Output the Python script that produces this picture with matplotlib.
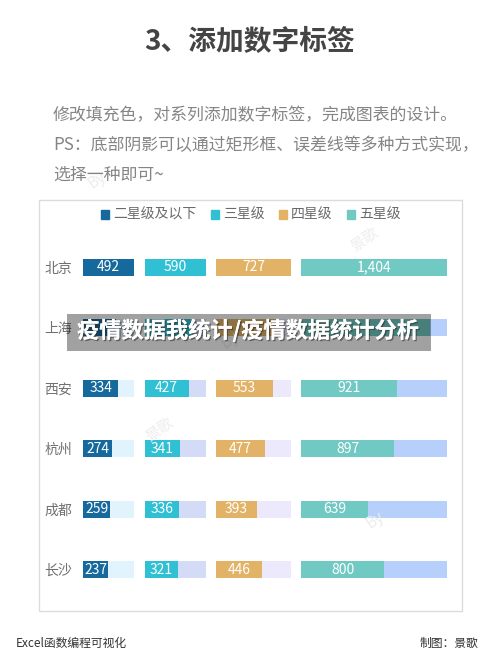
import matplotlib.pyplot as plt
import matplotlib.patheffects as pe
from matplotlib.patches import Rectangle

plt.rcParams['font.family'] = ['Noto Sans CJK SC', 'DejaVu Sans']

# Data (上海 is partly hidden by the banner, estimated)
cities = ['北京', '上海', '西安', '杭州', '成都', '长沙']
series_names = ['二星级及以下', '三星级', '四星级', '五星级']
two_star = [492, 319, 334, 274, 259, 237]
three_star = [590, 445, 427, 341, 336, 321]
four_star = [727, 587, 553, 477, 393, 446]
five_star = [1404, 1245, 921, 897, 639, 800]
gap = 100
hidden_row = '上海'  # its labels sit under the banner in the reference

colors = ['#16699d', '#2fc0d4', '#e2b366', '#71c9c3']
shadow_colors = ['#e1f4fd', '#d3dbf6', '#ede9fc', '#b6cffb']

W, H = 500, 666
fig = plt.figure(figsize=(W / 100, H / 100), dpi=100)
fig.patch.set_facecolor('white')

def fx(px):
    return px / W

def fy(py):
    return 1 - py / H

# Header texts
fig.text(0.5, fy(42), '3、添加数字标签', ha='center', va='center',
         fontsize=20, fontweight='bold', color='#444444')
body = ['修改填充色，对系列添加数字标签，完成图表的设计。',
        'PS：底部阴影可以通过矩形框、误差线等多种方式实现，',
        '选择一种即可~']
for i, line in enumerate(body):
    fig.text(fx(53), fy(115 + 30 * i), line, ha='left', va='center',
             fontsize=12.2, color='#858585')

# Chart panel frame
fig.patches.append(Rectangle((fx(39), fy(611)), fx(423), 411 / H,
                             transform=fig.transFigure, facecolor='none',
                             edgecolor='#dcdcdc', linewidth=1, zorder=0))

# Bar axes
ax = fig.add_axes([fx(83.3), fy(600), fx(363.4), 363 / H])
series = [two_star, three_star, four_star, five_star]
rows = list(range(len(cities)))
offset = 0
for k, vals in enumerate(series):
    top = max(vals)
    rest = [top - v for v in vals]
    ax.barh(rows, vals, left=offset, height=0.28, color=colors[k],
            label=series_names[k], zorder=2)
    ax.barh(rows, rest, left=[offset + v for v in vals], height=0.28,
            color=shadow_colors[k], zorder=1)
    for r, v in zip(rows, vals):
        if cities[r] == hidden_row:
            continue
        ax.text(offset + v / 2, r, f'{v:,}', ha='center', va='center',
                fontsize=10, color='white', zorder=3)
    offset += top + gap
ax.set_xlim(0, offset - gap)
ax.set_ylim(len(cities) - 0.5, -0.5)
ax.set_yticks(rows)
ax.set_yticklabels(cities, fontsize=10, color='#707070')
ax.tick_params(axis='y', length=0, pad=8)
ax.set_xticks([])
for s in ax.spines.values():
    s.set_visible(False)
ax.patch.set_alpha(0)

handles = [plt.Rectangle((0, 0), 1, 1, color=c) for c in colors]
fig.legend(handles, series_names, loc='center', bbox_to_anchor=(fx(251), fy(215)),
           ncol=4, frameon=False, fontsize=10, labelcolor='#6a6a6a',
           handlelength=0.6, handleheight=0.6, handletextpad=0.3,
           columnspacing=1.0)

# Faint watermarks
for x, y, t in [(365, 240, '景歌'), (230, 340, 'By'), (160, 430, '景歌'),
                (375, 520, 'By'), (97, 180, 'By')]:
    fig.text(fx(x), fy(y), t, ha='center', va='center', fontsize=11,
             color='#ededed', rotation=35, zorder=0)

# Banner overlay
fig.patches.append(Rectangle((fx(67), fy(351)), fx(364), 37 / H,
                             transform=fig.transFigure, facecolor='black',
                             alpha=0.37, edgecolor='none', zorder=10))
fig.text(fx(77), fy(331), '疫情数据我统计/疫情数据统计分析', ha='left', va='center',
         fontsize=16, fontweight='bold', color='white', zorder=11,
         path_effects=[pe.withSimplePatchShadow(offset=(1, -1), shadow_rgbFace='#333333', alpha=0.6),
                       pe.Normal()])

# Footer
fig.text(fx(16), fy(643), 'Excel函数编程可视化', ha='left', va='center',
         fontsize=8.5, color='#333333')
fig.text(fx(478), fy(643), '制图：景歌', ha='right', va='center',
         fontsize=8.5, color='#333333')

fig.savefig('out.png', dpi=100, facecolor='white')
plt.close()
